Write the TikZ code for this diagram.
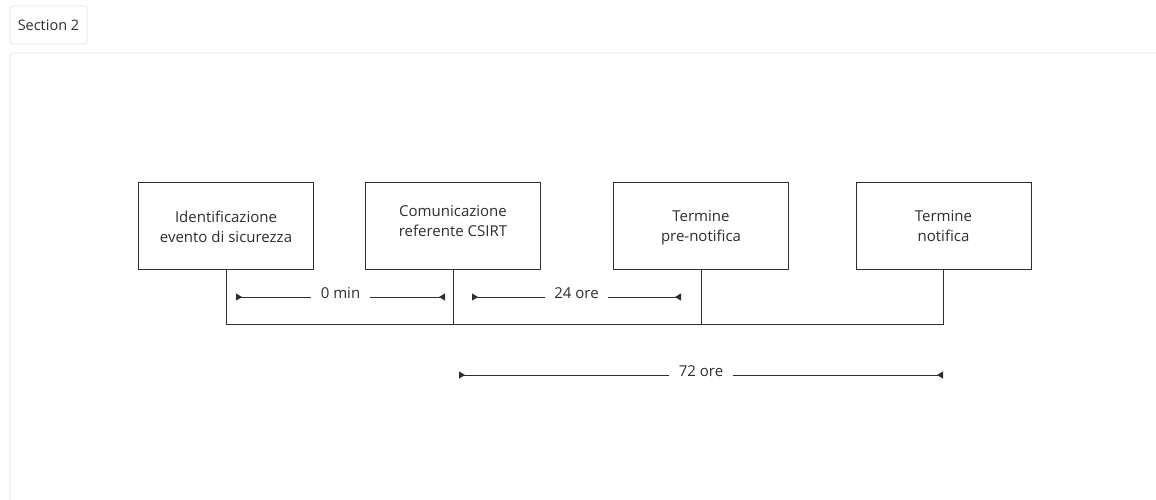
\documentclass[tikz,border=0pt]{standalone}
\usepackage{fontspec}
\setmainfont{Open Sans}
\usetikzlibrary{arrows.meta}
\definecolor{ink}{HTML}{2E2E2E}
\definecolor{frame}{HTML}{E3E3E3}
\tikzset{
  stepbox/.style={draw=ink, line width=1pt, minimum width=175pt, minimum height=87pt, inner sep=0pt},
  steptext/.style={align=center, text=ink, font=\fontsize{15}{20}\selectfont, inner sep=0pt},
  linkline/.style={draw=ink, line width=1pt},
  dimline/.style={draw=ink, line width=1pt,
    {Triangle[reversed,length=6pt,width=7pt]}-{Triangle[reversed,length=6pt,width=7pt]}},
  dimlabel/.style={fill=white, text=ink, inner xsep=9.5pt, inner ysep=1pt, yshift=3.5pt,
    font=\fontsize{15}{18}\selectfont},
}
\begin{document}
\begin{tikzpicture}[x=1pt,y=-1pt]
\useasboundingbox (0,0) rectangle (1156,499);
\fill[white] (0,0) rectangle (1156,499);
% header button
\node[draw=frame, line width=0.8pt, rounded corners=3pt, minimum width=77pt, minimum height=38pt,
  text=ink, font=\fontsize{14.5}{16}\selectfont, inner sep=0pt] (sec) at (48.5,25) {Section 2};
% panel
\draw[frame, line width=0.9pt, rounded corners=3pt] (10,510) -- (10,53) -- (1170,53);
% boxes
\node[stepbox] (b1) at (226,226) {};
\node[stepbox] (b2) at (453,226) {};
\node[stepbox] (b3) at (701,226) {};
\node[stepbox] (b4) at (943.5,226) {};
\node[steptext] (t1) at (226,228) {\strut Identificazione\\\strut evento di sicurezza};
\node[steptext] (t2) at (453,222.5) {\strut Comunicazione\\\strut referente CSIRT};
\node[steptext] (t3) at (701,227) {\strut Termine\\\strut pre-notifica};
\node[steptext] (t4) at (943.5,227) {\strut Termine\\\strut notifica};
% connectors
\coordinate (c1) at (b1.south |- 0,324);
\coordinate (c2) at (b2.south |- 0,324);
\coordinate (c3) at (b3.south |- 0,324);
\coordinate (c4) at (b4.south |- 0,324);
\draw[linkline] (b1.south) -- (c1) -- (c4) -- (b4.south);
\draw[linkline] (b2.south) -- (c2);
\draw[linkline] (b3.south) -- (c3);
% dimension lines
\coordinate (d1a) at (236,297);
\coordinate (d1b) at (445,297);
\coordinate (d2a) at (472,297);
\coordinate (d2b) at (681,297);
\coordinate (d3a) at (459,375);
\coordinate (d3b) at (943,375);
\draw[dimline] (d1a) -- node[dimlabel] (l1) {0 min} (d1b);
\draw[dimline] (d2a) -- node[dimlabel] (l2) {24 ore} (d2b);
\draw[dimline] (d3a) -- node[dimlabel] (l3) {72 ore} (d3b);
\end{tikzpicture}
\end{document}
